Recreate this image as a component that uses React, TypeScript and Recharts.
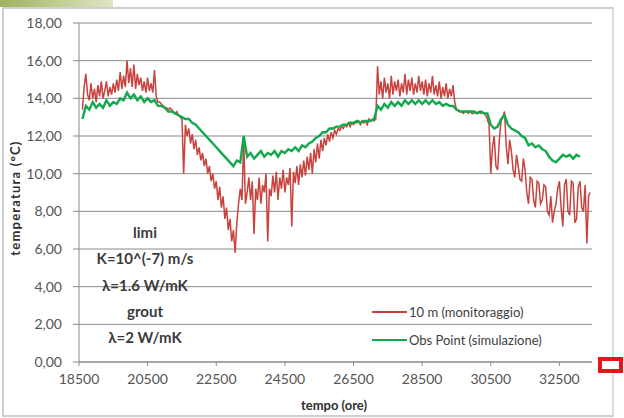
import React from "react";
import { LineChart, Line, XAxis, YAxis, CartesianGrid } from "recharts";

// hours for the monitoring series (10 m)
const redHours = [
  18600, 18650, 18700, 18750, 18800, 18850, 18900, 18950, 19000, 19050,
  19100, 19150, 19200, 19250, 19300, 19350, 19400, 19450, 19500, 19550,
  19600, 19650, 19700, 19750, 19800, 19850, 19900, 19950, 20000, 20050,
  20100, 20150, 20200, 20250, 20300, 20350, 20400, 20450, 20500, 20550,
  20600, 20650, 20700, 20750, 20800, 20850, 20900, 20950, 21000, 21050,
  21100, 21150, 21200, 21250, 21300, 21350, 21400, 21450, 21500, 21550,
  21600, 21650, 21700, 21750, 21800, 21850, 21900, 21950, 22000, 22050,
  22100, 22150, 22200, 22250, 22300, 22350, 22400, 22450, 22500, 22550,
  22600, 22650, 22700, 22750, 22800, 22850, 22900, 22950, 23000, 23050,
  23100, 23150, 23200, 23250, 23300, 23350, 23400, 23450, 23500, 23550,
  23600, 23650, 23700, 23750, 23800, 23850, 23900, 23950, 24000, 24050,
  24100, 24150, 24200, 24250, 24300, 24350, 24400, 24450, 24500, 24550,
  24600, 24650, 24700, 24750, 24800, 24850, 24900, 24950, 25000, 25050,
  25100, 25150, 25200, 25250, 25300, 25350, 25400, 25450, 25500, 25550,
  25600, 25650, 25700, 25750, 25800, 25850, 25900, 25950, 26000, 26050,
  26100, 26150, 26200, 26250, 26300, 26350, 26400, 26450, 26500, 26550,
  26600, 26650, 26700, 26750, 26800, 26850, 26900, 26950, 27000, 27050,
  27100, 27150, 27200, 27250, 27300, 27350, 27400, 27450, 27500, 27550,
  27600, 27650, 27700, 27750, 27800, 27850, 27900, 27950, 28000, 28050,
  28100, 28150, 28200, 28250, 28300, 28350, 28400, 28450, 28500, 28550,
  28600, 28650, 28700, 28750, 28800, 28850, 28900, 28950, 29000, 29050,
  29100, 29150, 29200, 29250, 29300, 29350, 29400, 29450, 29500, 29550,
  29600, 29650, 29700, 29750, 29800, 29850, 29900, 29950, 30000, 30050,
  30100, 30150, 30200, 30250, 30300, 30350, 30400, 30450, 30500, 30550,
  30600, 30650, 30700, 30750, 30800, 30850, 30900, 30950, 31000, 31050,
  31100, 31150, 31200, 31250, 31300, 31350, 31400, 31450, 31500, 31550,
  31600, 31650, 31700, 31750, 31800, 31850, 31900, 31950, 32000, 32050,
  32100, 32150, 32200, 32250, 32300, 32350, 32400, 32450, 32500, 32550,
  32600, 32650, 32700, 32750, 32800, 32850, 32900, 32950, 33000, 33050,
  33100, 33150, 33200, 33250, 33300, 33350, 33400,
];

const monitoraggio = [
  13.4, 14.6, 15.3, 14.2, 13.9, 14.8, 14.0, 14.5, 13.8, 14.7,
  14.1, 14.9, 14.0, 14.4, 14.9, 14.1, 14.6, 14.2, 14.8, 14.3,
  15.0, 14.4, 15.4, 14.5, 15.2, 14.6, 16.0, 14.8, 15.6, 14.6,
  15.8, 14.5, 15.3, 14.7, 15.1, 14.4, 14.9, 14.3, 15.1, 14.4,
  14.8, 14.3, 15.5, 14.1, 13.8, 13.8, 13.7, 13.6, 13.5, 13.5,
  13.4, 13.5, 13.4, 13.3, 13.2, 13.3, 13.1, 13.0, 12.9, 10.0,
  12.6, 12.0, 12.4, 11.6, 12.1, 11.3, 11.8, 11.0, 11.4, 10.7,
  11.1, 10.4, 10.8, 10.0, 10.4, 9.6, 10.0, 9.2, 9.6, 8.6,
  9.3, 8.2, 8.8, 7.6, 8.2, 7.0, 7.6, 6.4, 7.0, 5.8,
  7.4, 8.4, 9.2, 8.6, 11.8, 8.4, 9.0, 9.8, 8.6, 9.6,
  6.8, 9.2, 8.6, 9.8, 8.4, 9.4, 9.0, 10.0, 6.4, 9.2,
  8.8, 9.9, 9.0, 10.1, 8.6, 9.8, 9.2, 10.2, 9.0, 9.8,
  9.4, 10.3, 7.2, 10.1, 9.5, 10.4, 9.4, 10.5, 9.8, 10.7,
  9.9, 10.9, 10.2, 11.1, 10.0, 11.3, 10.6, 11.6, 10.8, 11.8,
  11.2, 11.9, 11.5, 12.1, 11.7, 12.2, 11.9, 12.3, 12.1, 12.4,
  12.3, 12.5, 12.4, 12.6, 12.5, 12.7, 12.5, 12.7, 12.6, 12.7,
  12.7, 12.8, 12.6, 12.8, 12.7, 12.8, 12.6, 12.9, 12.8, 12.9,
  12.8, 12.9, 15.7, 14.2, 14.9, 14.0, 15.1, 14.3, 14.8, 14.0,
  15.2, 14.2, 14.9, 14.4, 15.0, 14.1, 14.8, 14.3, 15.3, 14.2,
  15.0, 14.4, 15.1, 14.2, 14.8, 14.3, 15.2, 14.4, 14.9, 14.2,
  15.0, 14.1, 14.8, 14.3, 15.2, 14.2, 14.7, 14.1, 14.9, 14.0,
  14.6, 14.1, 14.8, 14.0, 14.5, 14.1, 14.7, 13.8, 13.4, 13.4,
  13.3, 13.3, 13.2, 13.3, 13.3, 13.2, 13.3, 13.2, 13.2, 13.3,
  13.2, 13.3, 13.2, 13.3, 13.2, 13.1, 12.9, 12.6, 10.0, 11.4,
  12.0, 10.4, 10.2, 11.8, 12.8, 13.0, 13.3, 11.5, 10.5, 11.8,
  11.2, 10.2, 9.8, 11.0, 10.4, 9.7, 9.6, 10.8, 10.2, 9.0,
  8.4, 9.8, 9.7, 8.6, 8.2, 9.6, 9.5, 8.4, 8.6, 9.4,
  9.3, 8.0, 7.8, 8.8, 7.4, 8.0, 8.4, 9.2, 9.6, 8.2,
  7.2, 9.4, 9.7, 8.0, 7.8, 9.6, 9.5, 7.4, 7.6, 9.3,
  9.6, 8.2, 8.0, 9.4, 6.3, 8.8, 9.0,
];

// hours for the simulated series (Obs Point)
const greenHours = [
  18600, 18700, 18800, 18900, 19000, 19100, 19200, 19300, 19400, 19500,
  19600, 19700, 19800, 19900, 20000, 20100, 20200, 20300, 20400, 20500,
  20600, 20700, 20800, 20900, 21000, 21100, 21200, 21300, 21400, 21500,
  21600, 21700, 21800, 21900, 22000, 22100, 22200, 22300, 22400, 22500,
  22600, 22700, 22800, 22900, 23000, 23100, 23200, 23300, 23400, 23500,
  23600, 23700, 23800, 23900, 24000, 24100, 24200, 24300, 24400, 24500,
  24600, 24700, 24800, 24900, 25000, 25100, 25200, 25300, 25400, 25500,
  25600, 25700, 25800, 25900, 26000, 26100, 26200, 26300, 26400, 26500,
  26600, 26700, 26800, 26900, 27000, 27100, 27200, 27300, 27400, 27500,
  27600, 27700, 27800, 27900, 28000, 28100, 28200, 28300, 28400, 28500,
  28600, 28700, 28800, 28900, 29000, 29100, 29200, 29300, 29400, 29500,
  29600, 29700, 29800, 29900, 30000, 30100, 30200, 30300, 30400, 30500,
  30600, 30700, 30800, 30900, 31000, 31100, 31200, 31300, 31400, 31500,
  31600, 31700, 31800, 31900, 32000, 32100, 32200, 32300, 32400, 32500,
  32600, 32700, 32800, 32900, 33000, 33100,
];

const simulazione = [
  12.9, 13.6, 13.4, 13.8, 13.5, 13.7, 13.5, 13.9, 13.6, 13.8,
  13.7, 14.0, 13.9, 14.3, 14.0, 14.2, 13.9, 14.1, 13.8, 14.0,
  13.8, 13.9, 13.6, 13.6, 13.5, 13.3, 13.3, 13.2, 13.1, 13.0,
  12.9, 12.9, 12.7, 12.6, 12.4, 12.2, 12.0, 11.8, 11.6, 11.4,
  11.2, 11.0, 10.8, 10.6, 10.4, 10.7, 10.6, 12.0, 10.9, 11.1,
  10.8, 11.0, 11.2, 10.9, 11.1, 11.0, 11.2, 10.9, 11.2, 11.1,
  11.3, 11.2, 11.4, 11.2, 11.5, 11.4, 11.6, 11.7, 11.9, 12.0,
  12.2, 12.2, 12.4, 12.4, 12.5, 12.5, 12.6, 12.6, 12.7, 12.7,
  12.8, 12.7, 12.8, 12.8, 12.8, 12.9, 13.6, 13.4, 13.7, 13.5,
  13.8, 13.6, 13.8, 13.6, 13.9, 13.7, 13.9, 13.7, 13.9, 13.7,
  13.9, 13.7, 13.9, 13.7, 13.8, 13.6, 13.7, 13.6, 13.6, 13.4,
  13.3, 13.3, 13.3, 13.3, 13.3, 13.2, 13.3, 13.2, 13.2, 12.6,
  12.4, 12.5, 12.9, 13.1, 12.6, 12.4, 12.3, 12.2, 12.0, 11.9,
  11.5, 11.6, 11.4, 11.5, 11.3, 11.2, 10.9, 10.7, 10.6, 10.8,
  11.0, 10.9, 11.0, 10.8, 11.0, 10.9,
];

const xTicks = [18500, 20500, 22500, 24500, 26500, 28500, 30500, 32500];
const yTicks = [0, 2, 4, 6, 8, 10, 12, 14, 16, 18];
const annotation = ["limi", "K=10^(-7) m/s", "λ=1.6 W/mK", "grout", "λ=2 W/mK"];
const seriesNames = ["10 m (monitoraggio)", "Obs Point (simulazione)"];

const redData = redHours.map((t, i) => ({ t, v: monitoraggio[i] }));
const greenData = greenHours.map((t, i) => ({ t, v: simulazione[i] }));

const RED = "#c8423e";
const GREEN = "#12a84c";
const FONT = "Lato, 'Open Sans', sans-serif";
const fmt = (v: number) => v.toFixed(2).replace(".", ",");

export default function App() {
  return (
    <div style={{ position: "absolute", left: 0, top: 0, width: 624, height: 418, background: "#fff", fontFamily: FONT, overflow: "hidden" }}>
      <div style={{ position: "absolute", left: 0, top: 0, width: 113, height: 7, background: "linear-gradient(to right, #9fb25e, #dfe6c6)" }} />
      <div style={{ position: "absolute", left: 2, top: 7, width: 608, height: 406, border: "2px solid #cfcfcf", borderRight: "2px solid #dedede" }} />
      <LineChart width={624} height={418} margin={{ top: 23, right: 32, left: 0, bottom: 26 }}>
        <CartesianGrid horizontal vertical={false} stroke="#8a8a8a" strokeWidth={1} />
        <XAxis
          dataKey="t"
          type="number"
          domain={[18500, 33450]}
          ticks={xTicks}
          allowDataOverflow
          height={30}
          tickSize={4}
          tickMargin={8}
          stroke="#8a8a8a"
          tick={{ fill: "#555555", fontSize: 14, fontFamily: FONT }}
        />
        <YAxis
          domain={[0, 18]}
          ticks={yTicks}
          width={79}
          tickSize={6}
          tickMargin={11}
          tickFormatter={fmt}
          stroke="#8a8a8a"
          tick={{ fill: "#555555", fontSize: 14, fontFamily: FONT }}
        />
        <Line data={redData} type="linear" dataKey="v" stroke={RED} strokeWidth={1.5} dot={false} isAnimationActive={false} />
        <Line data={greenData} type="linear" dataKey="v" stroke={GREEN} strokeWidth={2.4} dot={false} isAnimationActive={false} />
      </LineChart>
      {annotation.map((s, i) => (
        <div key={s} style={{ position: "absolute", left: 145, top: 232 + i * 26.3, transform: "translate(-50%, -50%)", fontWeight: 700, fontSize: 15, color: "#3b3b3b", whiteSpace: "nowrap" }}>
          {s}
        </div>
      ))}
      {seriesNames.map((s, i) => (
        <div key={s} style={{ position: "absolute", left: 372, top: 312 + i * 28, transform: "translateY(-50%)", display: "flex", alignItems: "center", whiteSpace: "nowrap", fontSize: 13, color: "#404040" }}>
          <span style={{ display: "inline-block", width: 35, height: 1.5, background: i === 0 ? RED : GREEN, marginRight: 2 }} />
          {s}
        </div>
      ))}
      <div style={{ position: "absolute", left: 15, top: 198, transform: "translate(-50%, -50%) rotate(-90deg)", fontWeight: 700, fontSize: 13, letterSpacing: 1.2, color: "#2e2e2e", whiteSpace: "nowrap" }}>
        temperatura (°C)
      </div>
      <div style={{ position: "absolute", left: 334, top: 405, transform: "translate(-50%, -50%)", fontWeight: 700, fontSize: 13, color: "#2e2e2e", whiteSpace: "nowrap" }}>
        tempo (ore)
      </div>
      <div style={{ position: "absolute", left: 598, top: 357, width: 17, height: 8, border: "4px solid #e8141b", background: "#fff" }} />
    </div>
  );
}
